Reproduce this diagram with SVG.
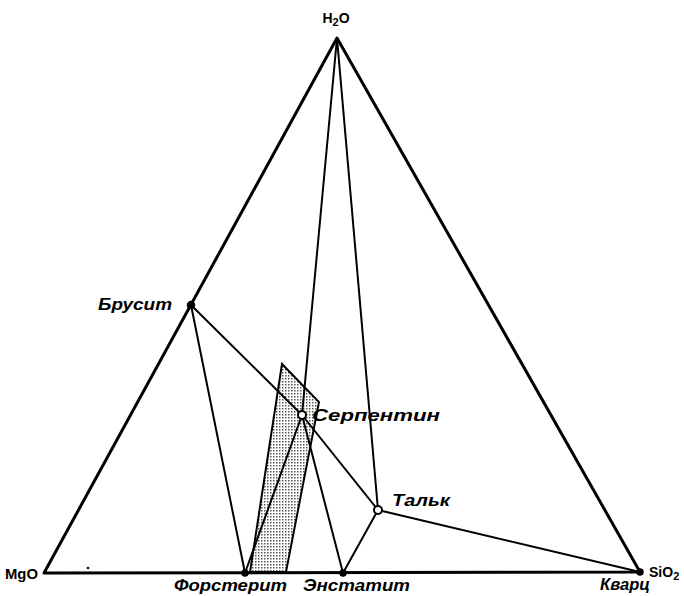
<svg xmlns="http://www.w3.org/2000/svg" width="684" height="596" viewBox="0 0 684 596">
<defs>
<pattern id="dots" width="3" height="3" patternUnits="userSpaceOnUse">
<rect width="3" height="3" fill="#ffffff"/>
<rect width="1.5" height="1.5" fill="#555"/>
</pattern>
<style>
.edge{stroke:#000;stroke-width:3;fill:none;stroke-linecap:round;stroke-linejoin:round}
.ln{stroke:#000;stroke-width:2;fill:none;stroke-linecap:round}
.lbl{font-family:"Liberation Sans",Arial,sans-serif;font-weight:bold;font-style:italic;font-size:17px;fill:#000}
.chem{font-family:"Liberation Sans",Arial,sans-serif;font-weight:bold;font-size:14px;fill:#000}
.open{fill:#fff;stroke:#000;stroke-width:2}
.solid{fill:#000;stroke:#000;stroke-width:1.5}
</style>
</defs>
<rect width="684" height="596" fill="#fff"/>
<g id="field">
<polygon points="282,364 319,402 286,572 250,572" fill="url(#dots)" stroke="#000" stroke-width="2"/>
</g>
<g id="connectors">
<polygon class="edge" points="44,573 337,38 640,572"/>
<line class="ln" x1="191" y1="305" x2="245" y2="573"/>
<line class="ln" x1="191" y1="305" x2="302" y2="415"/>
<line class="ln" x1="302" y1="415" x2="378" y2="510"/>
<line class="ln" x1="337" y1="38" x2="302" y2="415"/>
<line class="ln" x1="337" y1="38" x2="378" y2="510"/>
<line class="ln" x1="245" y1="573" x2="302" y2="415" stroke-width="3"/>
<line class="ln" x1="302" y1="415" x2="343" y2="573"/>
<line class="ln" x1="378" y1="510" x2="343" y2="573"/>
<line class="ln" x1="378" y1="510" x2="640" y2="572"/>
</g>
<g id="H2O"><text class="chem" x="336" y="23" text-anchor="middle">H<tspan font-size="11" dy="3">2</tspan><tspan dy="-3">O</tspan></text></g>
<g id="MgO"><text class="chem" x="5" y="579" textLength="33" lengthAdjust="spacingAndGlyphs">MgO</text></g>
<g id="SiO2"><circle class="solid" cx="640" cy="572" r="3"/><text class="chem" x="649" y="577">SiO<tspan font-size="11" dy="3">2</tspan></text>
<text class="lbl" x="600" y="590" font-size="17" textLength="50" lengthAdjust="spacingAndGlyphs">Кварц</text></g>
<g id="brucite"><circle class="solid" cx="191" cy="305" r="3.5"/><text class="lbl" x="98" y="310" textLength="74" lengthAdjust="spacingAndGlyphs">Брусит</text></g>
<g id="serpentine"><circle class="open" cx="302" cy="415" r="4"/><text class="lbl" x="312" y="421" textLength="128" lengthAdjust="spacingAndGlyphs">Серпентин</text></g>
<g id="talc"><circle class="open" cx="378" cy="510" r="4"/><text class="lbl" x="392" y="506" textLength="58" lengthAdjust="spacingAndGlyphs">Тальк</text></g>
<g id="forsterite"><circle class="solid" cx="245" cy="573" r="3"/><text class="lbl" x="174" y="591" font-size="16" textLength="113" lengthAdjust="spacingAndGlyphs">Форстерит</text></g>
<g id="enstatite"><circle class="solid" cx="343" cy="573" r="3"/><text class="lbl" x="303" y="591" font-size="16" textLength="107" lengthAdjust="spacingAndGlyphs">Энстатит</text></g>
<g id="speck"><circle cx="88" cy="568" r="1.3" fill="#000"/></g>
</svg>
